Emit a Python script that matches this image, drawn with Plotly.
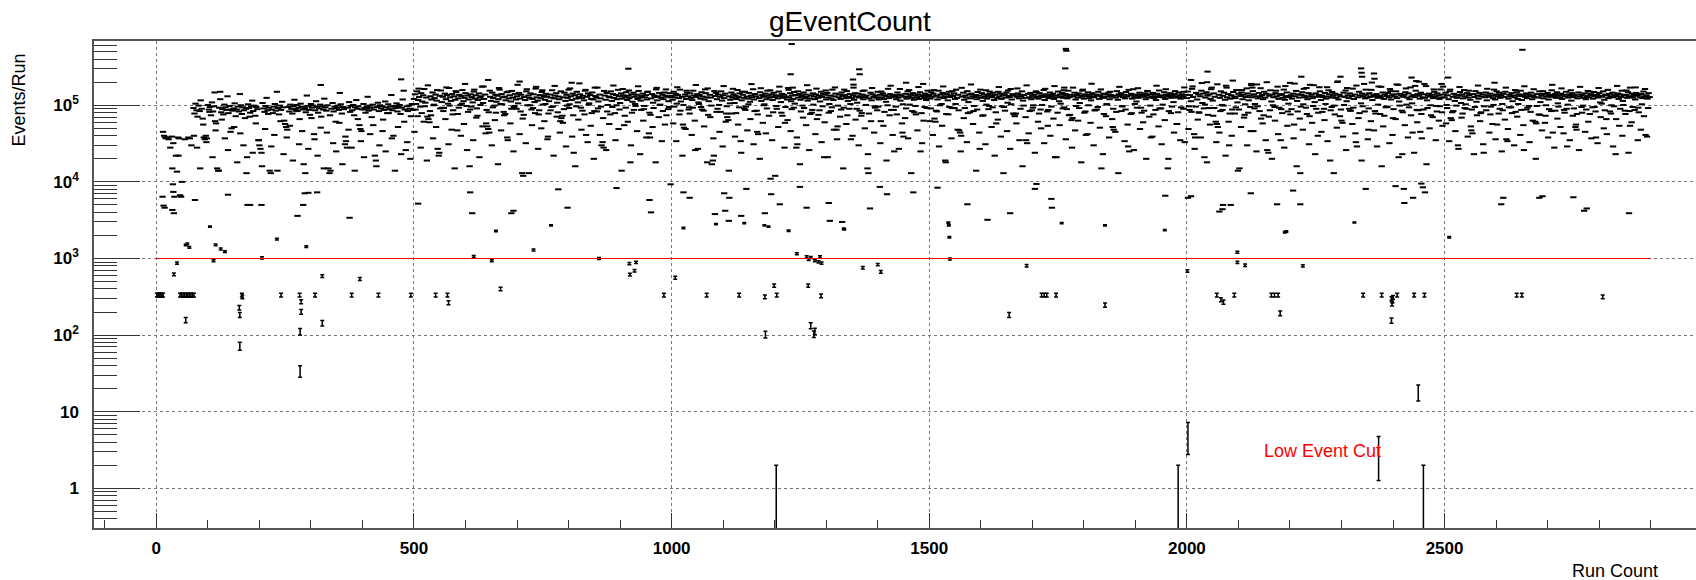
import numpy as np
import plotly.graph_objects as go

# ---------------- data (events per run) ----------------
# main band: values in thousands of events, one value every 2 runs from the start run
band_step = 2
band_a_start = 72
band_a_k = [
    92, 78, 105, 86, 71, 99, 84, 116, 90, 67, 38, 36, 40, 37, 101, 88, 95, 74, 109, 83,
    97, 62, 58, 15, 14, 93, 120, 81, 89, 76, 102, 94, 87, 131, 79, 98, 45, 50, 85, 91,
    106, 72, 88, 96, 83, 140, 100, 77, 94, 86, 68, 90, 21, 103, 92, 80, 97, 115, 84, 99,
    73, 95, 89, 35, 30, 27, 24, 107, 91, 82, 98, 125, 86, 93, 14, 13, 88, 79, 96, 104,
    85, 150, 92, 76, 99, 87, 111, 94, 63, 57, 52, 48, 95, 83, 102, 90, 78, 97, 118, 89,
    101, 84, 93, 66, 105, 96, 88, 17, 92, 81, 134, 98, 87, 75, 104, 93, 99, 42, 86, 113,
    95, 80, 91, 102, 71, 97, 88, 122, 94, 85, 100, 15, 13, 14, 90, 107, 83, 96, 61, 92,
    99, 87, 145, 103, 78, 95, 89, 31, 34, 28, 93, 110, 82, 98, 86, 101, 74, 94, 117, 90,
    97, 55, 49, 46, 88, 104, 92, 80, 96, 129, 85, 99, 93, 70, 102, 88, 22, 19, 95, 108,
    84, 100, 91, 97, 65, 87, 112, 94, 79, 103, 89, 96, 136, 86, 40, 98, 92, 106, 83, 95,
    101, 77, 93, 119, 155, 88, 26, 97, 84, 99, 90, 72, 104, 87]
band_b_start = 500
band_b_k = [
    121, 139, 104, 152, 117, 128, 96, 144, 112, 135, 163, 108, 126, 71, 66, 60, 131, 119, 147, 100,
    124, 138, 115, 27, 22, 133, 156, 110, 129, 92, 142, 120, 136, 105, 168, 127, 114, 140, 86, 131,
    118, 149, 47, 123, 137, 101, 132, 158, 113, 125, 144, 98, 134, 119, 16, 139, 128, 109, 151, 122,
    135, 91, 117, 143, 126, 131, 175, 107, 121, 138, 58, 53, 49, 44, 129, 114, 146, 124, 99, 137,
    111, 133, 120, 160, 104, 140, 127, 82, 130, 116, 148, 35, 123, 135, 112, 154, 126, 95, 141, 119,
    131, 106, 145, 122, 137, 13, 12, 128, 117, 152, 100, 134, 125, 143, 88, 121, 139, 110, 165, 127,
    115, 76, 136, 124, 149, 102, 132, 118, 141, 129, 39, 113, 138, 126, 157, 97, 123, 134, 144, 108,
    130, 120, 62, 68, 73, 127, 146, 114, 137, 125, 160, 103, 131, 117, 142, 24, 135, 122, 150, 109,
    128, 139, 93, 124, 133, 116, 155, 41, 129, 143, 106, 136, 121, 147, 119, 84, 132, 126, 170, 112,
    138, 123, 30, 33, 28, 134, 118, 145, 101, 130, 127, 152, 114, 140, 125, 79, 136, 120, 159, 131,
    107, 143, 122, 135, 55, 128, 148, 117, 133, 124, 18, 139, 111, 146, 129, 98, 137, 121, 154, 126,
    115, 132, 142, 89, 127, 136, 119, 150, 43, 38, 123, 140, 108, 134, 128, 161, 116, 131, 145, 102,
    125, 138, 120, 147, 133, 74, 129, 113, 144, 127]
band_c_start = 1000
band_c_k = [
    133, 118, 150, 127, 141, 105, 136, 124, 160, 112, 129, 56, 51, 138, 121, 146, 131, 94, 143, 125,
    117, 155, 134, 26, 128, 140, 109, 136, 122, 148, 130, 85, 119, 144, 127, 166, 113, 137, 126, 17,
    19, 22, 132, 145, 120, 138, 101, 129, 152, 115, 135, 124, 142, 78, 70, 64, 131, 118, 147, 126,
    139, 107, 133, 121, 158, 128, 143, 34, 116, 137, 125, 150, 96, 130, 122, 145, 111, 134, 127, 162,
    119, 140, 131, 45, 42, 124, 148, 114, 136, 129, 103, 142, 120, 155, 133, 126, 11, 139, 117, 146,
    128, 135, 90, 123, 151, 132, 110, 141, 125, 137, 59, 130, 119, 168, 127, 144, 113, 134, 121, 149,
    136, 28, 31, 126, 140, 118, 132, 99, 147, 124, 138, 129, 115, 157, 122, 135, 80, 143, 130, 120,
    139, 66, 125, 133, 112, 150, 128, 141, 21, 137, 119, 145, 126, 104, 134, 122, 160, 117, 131, 142,
    48, 53, 127, 138, 121, 147, 132, 93, 136, 124, 153, 114, 129, 140, 36, 125, 135, 118, 144, 130,
    108, 142, 126, 131, 73, 138, 120, 156, 128, 134, 15, 13, 123, 146, 116, 139, 129, 97, 133, 125,
    150, 119, 137, 62, 127, 143, 121, 135, 111, 131, 164, 124, 140, 87, 128, 136, 25, 132, 120, 147,
    126, 138, 115, 133, 44, 39, 129, 141, 122, 152, 130, 102, 137, 125, 144, 118, 134, 76, 127, 139,
    121, 148, 131, 32, 135, 124, 142, 117, 129, 136]
band_d_start = 1500
band_d_k = [
    136, 122, 148, 129, 141, 67, 61, 133, 119, 155, 127, 138, 104, 145, 124, 131, 18, 140, 116, 150,
    128, 135, 92, 132, 143, 121, 160, 125, 137, 47, 44, 40, 130, 146, 118, 134, 126, 153, 110, 139,
    123, 142, 131, 84, 128, 136, 120, 149, 133, 27, 125, 144, 114, 138, 129, 157, 122, 135, 98, 141,
    127, 132, 146, 117, 137, 58, 124, 150, 130, 142, 121, 135, 13, 139, 126, 147, 108, 133, 128, 163,
    119, 140, 134, 72, 78, 129, 143, 123, 137, 131, 152, 115, 136, 125, 35, 32, 141, 127, 145, 120,
    133, 100, 138, 126, 149, 130, 122, 144, 88, 135, 128, 158, 117, 139, 132, 54, 124, 147, 129, 136,
    142, 121, 21, 134, 127, 151, 113, 138, 130, 145, 125, 94, 140, 133, 123, 155, 128, 137, 64, 68,
    131, 146, 119, 136, 126, 143, 107, 134, 129, 160, 122, 139, 41, 132, 148, 124, 137, 116, 144, 130,
    127, 86, 138, 133, 150, 121, 135, 15, 128, 142, 125, 140, 103, 131, 146, 120, 136, 129, 52, 48,
    134, 126, 153, 118, 139, 132, 144, 97, 128, 137, 123, 149, 130, 29, 25, 135, 141, 122, 162, 127,
    133, 112, 138, 125, 146, 131, 80, 136, 129, 143, 120, 134, 152, 126, 139, 38, 130, 145, 124, 137,
    117, 141, 128, 156, 132, 91, 135, 127, 148, 121, 138, 133, 20, 129, 144, 125, 136, 110, 140, 131,
    57, 126, 147, 134, 122, 139, 129, 150, 33, 137]
band_e_start = 2000
band_e_k = [
    124, 151, 97, 136, 113, 164, 128, 42, 38, 145, 119, 138, 80, 131, 155, 107, 142, 21, 126, 148,
    134, 92, 139, 121, 170, 115, 143, 129, 61, 57, 52, 137, 125, 152, 101, 133, 146, 118, 180, 127,
    140, 30, 122, 135, 88, 149, 130, 124, 158, 109, 141, 15, 132, 147, 120, 137, 75, 128, 166, 143,
    116, 134, 46, 127, 153, 139, 104, 131, 187, 123, 145, 129, 67, 136, 120, 150, 126, 141, 26, 24,
    133, 157, 112, 138, 127, 95, 144, 130, 175, 121, 136, 35, 140, 125, 160, 118, 132, 147, 83, 128,
    196, 135, 122, 142, 56, 131, 154, 114, 139, 126, 13, 137, 148, 103, 133, 127, 168, 120, 144, 72,
    131, 138, 124, 183, 110, 143, 129, 40, 136, 152, 117, 134, 128, 90, 145, 122, 172, 130, 139, 19,
    126, 149, 133, 99, 141, 125, 201, 119, 137, 131, 63, 59, 146, 128, 156, 113, 135, 124, 143, 85,
    132, 165, 121, 138, 33, 29, 127, 150, 134, 106, 142, 130, 190, 123, 137, 126, 48, 144, 129, 159,
    117, 136, 131, 78, 140, 125, 176, 133, 128, 16, 147, 121, 138, 94, 132, 145, 127, 163, 119, 135,
    68, 139, 130, 152, 124, 185, 112, 141, 134, 23, 129, 137, 148, 102, 126, 143, 120, 171, 131, 44,
    136, 128, 155, 87, 140, 133, 122, 146, 37, 127, 139, 125, 178, 116, 134, 142, 130, 74, 137, 124,
    150, 129, 98, 143, 135, 121, 161, 126, 54, 138]
band_f_start = 2500
band_f_k = [
    127, 146, 101, 135, 120, 152, 68, 64, 129, 141, 114, 137, 125, 30, 133, 149, 107, 139, 123, 158,
    131, 90, 144, 126, 136, 118, 47, 43, 140, 128, 153, 111, 134, 122, 145, 79, 130, 138, 24, 127,
    147, 116, 135, 129, 142, 96, 133, 124, 160, 119, 138, 56, 131, 146, 125, 136, 104, 141, 128, 150,
    36, 34, 122, 137, 130, 144, 113, 134, 127, 82, 148, 121, 139, 132, 155, 117, 136, 26, 129, 143,
    124, 137, 98, 131, 146, 120, 135, 128, 61, 58, 140, 126, 152, 110, 133, 141, 123, 138, 73, 130,
    145, 119, 136, 129, 157, 44, 132, 140, 125, 148, 106, 134, 127, 142, 121, 137, 87, 131, 150, 29,
    126, 139, 133, 115, 144, 128, 136, 52, 48, 123, 147, 130, 138, 95, 135, 125, 143, 120, 132, 154,
    127, 77, 140, 134, 122, 149, 131, 38, 137, 126, 145, 109, 133, 129, 152, 118, 138, 66, 135, 124,
    141, 130, 100, 146, 127, 136, 23, 132, 143, 121, 139, 128, 155, 114, 134, 85, 137, 125, 148, 131,
    54, 129, 142, 126, 136, 119, 145, 133, 93, 138, 127, 140, 124, 151, 130, 41, 135, 122, 144, 128]

# runs on odd positions that sit below the dense band (thousands of events, one every 6 runs)
spread_step = 6
spread_a_start = 73
spread_a_k = [
    40, 28, 15, 56, 33, 82, 21, 47, 14, 65, 37, 26, 88, 52, 18, 43, 30, 13, 71, 24,
    58, 35, 16, 49, 77, 29, 41, 14, 62, 23, 38, 54, 19, 85, 31, 46, 13, 27, 68, 36,
    22, 51, 15, 44, 74, 32, 25, 59, 17, 39, 48, 28, 14, 66, 34, 21, 90, 42, 55, 16,
    30, 46, 25, 79, 37, 14, 52, 23, 61, 33, 20]
spread_b_start = 501
spread_b_k = [
    45, 72, 28, 61, 19, 84, 37, 52, 24, 93, 66, 31, 48, 15, 77, 40, 57, 26, 88, 35,
    69, 21, 53, 43, 81, 30, 64, 17, 47, 74, 38, 58, 25, 90, 42, 67, 32, 13, 55, 79,
    27, 50, 62, 36, 86, 22, 71, 44, 59, 29, 92, 39, 16, 65, 48, 76, 33, 54, 20, 83,
    41, 68, 26, 57, 95, 35, 49, 14, 73, 61, 30, 87, 46, 23, 63, 38, 80, 52, 18, 70,
    34, 56, 89]
spread_c_start = 1003
spread_c_k = [
    58, 34, 76, 22, 49, 88, 41, 63, 27, 95, 53, 18, 70, 37, 82, 45, 29, 61, 14, 78,
    39, 56, 24, 91, 47, 66, 31, 85, 20, 59, 43, 73, 35, 12, 52, 80, 28, 64, 46, 93,
    38, 17, 69, 55, 26, 87, 42, 75, 33, 60, 21, 84, 48, 36, 71, 15, 57, 90, 40, 65,
    30, 79, 50, 23, 62, 44, 86, 32, 54, 19, 74, 41, 96, 27, 58, 68, 37, 13, 81, 47,
    25, 63, 92]
spread_d_start = 1501
spread_d_k = [
    62, 41, 85, 29, 54, 19, 76, 37, 92, 48, 25, 68, 33, 81, 57, 14, 44, 73, 31, 89,
    52, 22, 65, 39, 95, 46, 27, 78, 58, 35, 16, 70, 43, 86, 24, 61, 50, 32, 83, 40,
    67, 21, 55, 91, 36, 74, 28, 47, 63, 18, 80, 42, 59, 30, 88, 51, 23, 72, 38, 66,
    45, 13, 84, 34, 56, 77, 26, 93, 49, 60, 20, 71, 39, 87, 53, 31, 64, 15, 79, 44,
    57, 35, 90]
spread_e_start = 2003
spread_e_k = [
    49, 82, 27, 65, 38, 91, 18, 56, 73, 33, 44, 87, 22, 61, 40, 78, 14, 52, 69, 30,
    95, 46, 25, 84, 58, 35, 71, 20, 63, 42, 89, 28, 54, 76, 37, 16, 67, 48, 93, 31,
    59, 23, 80, 45, 64, 34, 86, 13, 51, 72, 39, 26, 90, 57, 43, 68, 19, 83, 36, 62,
    47, 29, 77, 53, 96, 32, 41, 66, 21, 85, 55, 38, 74, 24, 60, 45, 88, 17, 50, 70,
    35, 63, 81]
spread_f_start = 2503
spread_f_k = [
    58, 34, 81, 46, 27, 69, 92, 39, 53, 23, 74, 62, 31, 86, 44, 57, 36, 78, 25, 65,
    49, 94, 30, 71, 41, 55, 88, 33, 63, 20, 76, 47, 59, 38, 84, 28, 67, 52, 43, 90,
    35, 73, 56, 26, 80, 45, 61, 37, 95, 32, 70, 50, 42, 83, 29, 66, 54, 40, 77, 24,
    60, 87, 35, 48, 72, 39]

# runs on the remaining odd positions at the lower and upper edges of the dense band
edge_step = 6
edge_b_start = 503
edge_b_k = [
    88, 165, 79, 97, 182, 74, 102, 158, 91, 84, 171, 99, 76, 153, 93, 105, 190, 82, 96, 160,
    73, 101, 176, 87, 155, 94, 80, 168, 103, 77, 151, 90, 98, 185, 83, 75, 162, 100, 92, 174,
    86, 157, 104, 78, 95, 179, 81, 152, 89, 99, 166, 74, 97, 193, 85, 159, 102, 79, 170, 91,
    96, 154, 83, 76, 181, 100, 88, 163, 93, 156, 80, 104, 177, 87, 98, 150, 75, 92, 169, 101,
    84, 161, 95]
edge_c_start = 1005
edge_c_k = [
    96, 172, 85, 101, 155, 78, 93, 184, 104, 88, 161, 75, 99, 153, 90, 82, 178, 97, 106, 164,
    79, 94, 150, 87, 103, 189, 84, 76, 167, 100, 91, 157, 81, 98, 175, 73, 95, 159, 89, 105,
    152, 83, 92, 183, 77, 102, 165, 86, 97, 156, 80, 94, 171, 99, 88, 160, 74, 104, 186, 90,
    85, 154, 101, 78, 168, 93, 96, 151, 82, 100, 180, 87, 76, 163, 103, 91, 158, 84, 98, 173,
    79, 95, 155]
edge_d_start = 1503
edge_d_k = [
    91, 158, 83, 100, 176, 77, 95, 153, 104, 86, 169, 92, 79, 187, 98, 88, 160, 74, 102, 151,
    94, 81, 173, 97, 85, 156, 103, 76, 166, 90, 99, 182, 84, 93, 152, 78, 101, 164, 87, 96,
    178, 80, 105, 157, 89, 75, 170, 98, 92, 155, 83, 100, 191, 86, 95, 161, 77, 103, 150, 90,
    82, 174, 97, 88, 159, 79, 104, 167, 93, 85, 154, 99, 76, 180, 91, 102, 162, 84, 96, 153,
    81, 94, 171]
edge_e_start = 2005
edge_e_k = [
    87, 176, 96, 81, 195, 102, 75, 162, 92, 188, 84, 99, 170, 78, 210, 94, 88, 158, 103, 80,
    183, 91, 97, 167, 74, 200, 86, 100, 155, 93, 79, 178, 105, 89, 192, 83, 96, 164, 77, 185,
    98, 90, 172, 82, 104, 157, 95, 76, 205, 88, 101, 168, 85, 93, 181, 79, 97, 160, 91, 198,
    84, 102, 174, 73, 95, 153, 89, 187, 99, 81, 166, 94, 106, 179, 86, 77, 190, 92, 100, 161,
    83, 97, 175]
edge_f_start = 2505
edge_f_k = [
    92, 160, 84, 99, 173, 78, 103, 155, 88, 95, 181, 81, 97, 164, 76, 101, 152, 90, 86, 170,
    94, 79, 158, 104, 87, 177, 93, 82, 162, 98, 75, 153, 100, 89, 185, 85, 96, 166, 80, 102,
    157, 91, 77, 174, 99, 88, 151, 94, 83, 168, 105, 86, 159, 78, 97, 179, 90, 101, 156, 84,
    95, 171, 81, 103, 163, 92]

# early runs before the main band
early_runs = [13, 15, 17, 19, 22, 24, 27, 30, 33, 31, 38, 40, 42, 43, 44, 50, 62, 65, 55, 68]
early_vals = [45000, 40000, 38000, 37000, 38000, 36000, 28000, 39000, 32000, 15000, 22000, 13600, 38000, 22000, 37000,
              10000, 38000, 37000, 36000, 30000]

# high outliers
high_runs = [113, 124, 319, 475, 644, 705, 806, 916, 1231, 1233, 1235, 1352, 1353, 1364, 1365, 1455, 1488, 1765, 1766,
             1764, 1762, 2008, 2039, 2040, 2125, 2127, 2222, 2298, 2338, 2339, 2340, 2363, 2364, 2436, 2445, 2450, 2494,
             2507, 2597, 2651, 2860]
high_vals = [147000, 150000, 184000, 218000, 214000, 204000, 197000, 300000, 254000, 630000, 170000, 217000, 170000,
             295000, 254000, 197000, 190000, 545000, 515000, 303000, 170000, 214000, 200000, 275000, 190000, 170000,
             236000, 236000, 303000, 266000, 236000, 260000, 222000, 230000, 207000, 203000, 190000, 230000, 197000,
             530000, 170000]

# scattered runs between 1e3 and 1e4
mid_runs = [12, 14, 16, 32, 33, 35, 31, 34, 46, 48, 57, 60, 64, 75, 104, 115, 125, 133, 139, 177, 182, 204, 234, 274,
            285, 288, 291, 295, 312, 375, 508, 609, 613, 659, 689, 693, 732, 766, 780, 798, 893, 957, 960, 998, 1023,
            1035, 1023, 1084, 1086, 1102, 1104, 1112, 1111, 1135, 1141, 1145, 1181, 1180, 1188, 1193, 1210, 1227, 1249,
            1262, 1305, 1307, 1331, 1334, 1335, 1385, 1404, 1418, 1469, 1516, 1537, 1538, 1539, 1574, 1613, 1657, 1705,
            1708, 1737, 1738, 1757, 1841, 1957, 1958, 2002, 2008, 2063, 2069, 2070, 2085, 2124, 2175, 2190, 2193, 2206,
            2220, 2325, 2347, 2405, 2421, 2422, 2439, 2455, 2458, 2462, 2509, 2610, 2614, 2684, 2690, 2750, 2771, 2776,
            2858]
mid_vals = [6400, 4900, 4600, 9300, 7400, 6400, 4300, 3900, 6700, 6400, 1500, 1550, 1400, 5800, 2600, 1510, 1330, 1230,
            6800, 5000, 5000, 5000, 1790, 3600, 5000, 7100, 1430, 7200, 7300, 3400, 5200, 7300, 3900, 2290, 3900, 4200,
            1290, 2700, 8000, 4600, 8300, 5800, 4000, 9300, 7300, 6200, 2500, 3800, 2800, 7100, 4200, 6200, 3100, 3600,
            2900, 8100, 3900, 2700, 2600, 6900, 5100, 2300, 8600, 4600, 5300, 3100, 3000, 2450, 2400, 4500, 8600, 6900,
            7300, 8400, 2940, 2700, 1900, 5100, 3200, 3900, 8100, 9400, 6000, 4600, 2900, 2700, 2350, 6600, 6200, 6500,
            4100, 4400, 5000, 5000, 7100, 5100, 2200, 2250, 7700, 5100, 2950, 8100, 8800, 8100, 5300, 6200, 9500, 8500,
            7300, 1900, 5100, 6200, 6200, 6500, 6300, 4200, 4500, 3900]

# low runs (around or below the cut)
low_runs = [1, 3, 5, 7, 9, 11, 13, 46, 49, 52, 55, 58, 61, 64, 67, 70, 73, 34, 40, 57, 111, 166, 167, 161, 162, 162,
            205, 242, 278, 281, 281, 279, 279, 308, 322, 322, 379, 395, 431, 494, 542, 565, 567, 616, 651, 668, 859, 918,
            931, 919, 928, 985, 1007, 1068, 1131, 1181, 1204, 1199, 1182, 1203, 1243, 1262, 1266, 1270, 1278, 1285, 1288,
            1291, 1265, 1290, 1270, 1276, 1278, 1371, 1400, 1406, 1540, 1689, 1655, 1718, 1723, 1728, 1746, 1841, 1983,
            2001, 2002, 2058, 2066, 2071, 2092, 2098, 2098, 2113, 2164, 2170, 2177, 2181, 2225, 2342, 2372, 2378, 2397,
            2399, 2398, 2397, 2400, 2408, 2441, 2449, 2459, 2461, 2640, 2650, 2807]
low_vals = [333, 333, 333, 333, 333, 333, 333, 333, 333, 333, 333, 333, 333, 333, 333, 333, 333, 622, 873, 157, 935, 333,
            315, 228, 183, 72, 1020, 333, 333, 273, 202, 111, 34, 333, 590, 143, 333, 540, 333, 333, 333, 333, 265, 1060,
            935, 400, 1000, 855, 890, 615, 693, 333, 561, 333, 333, 317, 333, 442, 102, 1, 1150, 1050, 970, 1030, 935, 905,
            1050, 870, 442, 325, 133, 103, 112, 758, 830, 670, 985, 805, 183, 333, 333, 333, 333, 247, 1, 687, 5, 333, 290,
            270, 333, 1205, 890, 817, 333, 333, 333, 193, 800, 333, 3, 333, 300, 280, 255, 155, 310, 333, 333, 18, 1, 333,
            333, 333, 317]

cut_value = 1000
cut_runs = [0, 2900]

# ---------------- assemble ----------------
runs, vals = [], []
for step, blocks in [
    (band_step, [(band_a_start, band_a_k), (band_b_start, band_b_k), (band_c_start, band_c_k),
                 (band_d_start, band_d_k), (band_e_start, band_e_k), (band_f_start, band_f_k)]),
    (spread_step, [(spread_a_start, spread_a_k), (spread_b_start, spread_b_k), (spread_c_start, spread_c_k),
                   (spread_d_start, spread_d_k), (spread_e_start, spread_e_k), (spread_f_start, spread_f_k)]),
    (edge_step, [(edge_b_start, edge_b_k), (edge_c_start, edge_c_k), (edge_d_start, edge_d_k),
                 (edge_e_start, edge_e_k), (edge_f_start, edge_f_k)]),
]:
    for start, lst in blocks:
        for i, v in enumerate(lst):
            runs.append(start + step * i)
            vals.append(v * 1000)
for rr, vv in [(early_runs, early_vals), (high_runs, high_vals), (mid_runs, mid_vals), (low_runs, low_vals)]:
    runs.extend(rr)
    vals.extend(vv)
runs = [float(r) for r in runs]
vals = [float(v) for v in vals]

# large counts: the Poisson error is thinner than the end caps, so each run shows as a short dash
big_x = [r for r, v in zip(runs, vals) if v >= 3000]
big_y = [v for v in vals if v >= 3000]
# small counts: Poisson error bars with end caps
small_x = [r for r, v in zip(runs, vals) if v < 3000]
small_y = [v for v in vals if v < 3000]
small_err = [float(np.sqrt(v)) for v in small_y]

fig = go.Figure()
fig.add_trace(go.Scatter(
    x=big_x, y=big_y, mode="markers",
    marker=dict(symbol="line-ew", size=4.5, color="black", line=dict(color="black", width=2)),
    hoverinfo="x+y", showlegend=False,
))
fig.add_trace(go.Scatter(
    x=small_x, y=small_y, mode="markers",
    marker=dict(size=1, color="black"),
    error_y=dict(type="data", array=small_err, arrayminus=small_err, width=2, thickness=1.5, color="black"),
    hoverinfo="x+y", showlegend=False,
))
fig.add_trace(go.Scatter(
    x=cut_runs, y=[cut_value, cut_value], mode="lines",
    line=dict(color="#ff0000", width=1.2), showlegend=False, hoverinfo="skip",
))

# ---------------- layout ----------------
W, H = 1696, 580
ml, mr, mt, mb = 94, 0, 41, 52
pw, ph = W - ml - mr, H - mt - mb

font = "Liberation Sans, Arial, Helvetica, sans-serif"
major_x = [0, 500, 1000, 1500, 2000, 2500]
minor_x = [v for v in range(-100, 3000, 100) if v % 500 != 0]
major_y = [1, 10, 100, 1000, 10000, 100000]
ytext = ["1", "10", "10<sup>2</sup>", "10<sup>3</sup>", "10<sup>4</sup>", "10<sup>5</sup>"]
minor_y = [m * 10 ** e for e in range(-1, 6) for m in range(2, 10)]
minor_y = [v for v in minor_y if 0.3 <= v <= 690000]

fig.update_layout(
    width=W, height=H,
    margin=dict(l=ml, r=mr, t=mt, b=mb, pad=0),
    paper_bgcolor="white", plot_bgcolor="white",
    font=dict(family=font, color="black"),
    xaxis=dict(
        range=[-121, 2988], tickmode="array", tickvals=major_x,
        ticks="inside", ticklen=15, tickwidth=1, tickcolor="#333",
        showline=True, linecolor="#555", linewidth=1.5, mirror=True,
        showgrid=True, gridcolor="#777", griddash="dot", gridwidth=1, zeroline=False,
        tickfont=dict(family=font, size=17, weight="bold", color="black"),
        ticklabelstandoff=4,
        minor=dict(tickmode="array", tickvals=minor_x, ticks="inside", ticklen=8, tickwidth=1,
                   tickcolor="#333", showgrid=False),
    ),
    yaxis=dict(
        type="log", range=[-0.518, 5.839], tickmode="array", tickvals=major_y, ticktext=ytext,
        ticks="inside", ticklen=46, tickwidth=1, tickcolor="#333",
        showline=True, linecolor="#555", linewidth=1.5, mirror=False,
        showgrid=True, gridcolor="#777", griddash="dot", gridwidth=1, zeroline=False,
        tickfont=dict(family=font, size=17, weight="bold", color="black"),
        ticklabelstandoff=10,
        minor=dict(tickmode="array", tickvals=minor_y, ticks="inside", ticklen=23, tickwidth=1,
                   tickcolor="#333", showgrid=False),
    ),
)

def px_x(p):
    return (p - ml) / pw

def px_y(p):
    return (H - mb - p) / ph

fig.add_annotation(text="gEventCount", xref="paper", yref="paper", x=px_x(850), y=px_y(21),
                   xanchor="center", yanchor="middle", showarrow=False,
                   font=dict(family=font, size=28, color="black"))
fig.add_annotation(text="Events/Run", xref="paper", yref="paper", x=px_x(19), y=px_y(52),
                   xanchor="center", yanchor="top", textangle=-90, showarrow=False,
                   font=dict(family=font, size=18, color="black"))
fig.add_annotation(text="Run Count", xref="paper", yref="paper", x=px_x(1660), y=px_y(571),
                   xanchor="right", yanchor="middle", showarrow=False,
                   font=dict(family=font, size=18, color="black"))
fig.add_annotation(text="Low Event Cut", xref="x", yref="y", x=2264, y=np.log10(3.07),
                   xanchor="center", yanchor="middle", showarrow=False,
                   font=dict(family=font, size=18, color="#ff0000"))

fig.write_html("out.html")
